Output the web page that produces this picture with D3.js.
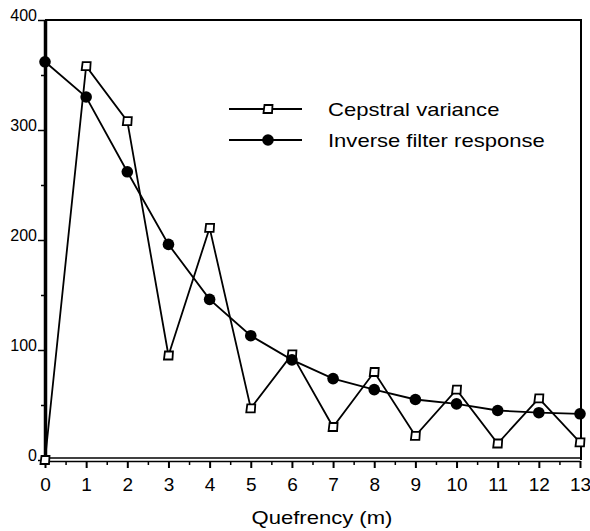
<!DOCTYPE html>
<html>
<head>
<meta charset="utf-8">
<script src="https://cdn.jsdelivr.net/npm/d3@7"></script>
<style>
  body { margin: 0; background: #fff; }
  svg { font-family: "Liberation Sans", Arial, sans-serif; }
</style>
</head>
<body>
<div id="chart"></div>
<script>
const quefrency = [0, 1, 2, 3, 4, 5, 6, 7, 8, 9, 10, 11, 12, 13];
const cepstralVariance = [0, 358, 308, 95, 211, 47, 96, 30, 80, 22, 64, 15, 56, 16];
const inverseFilter = [362, 330, 262, 196, 146, 113, 91, 74, 64, 55, 51, 45, 43, 42];
const yTicks = [0, 100, 200, 300, 400];
const yMinorTicks = [50, 150, 250, 350];
const xMinorTicks = d3.range(0.5, 13, 1);

const width = 590;
const height = 531;

const svg = d3.select("#chart")
  .append("svg")
    .attr("width", width)
    .attr("height", height);

const x = d3.scaleLinear().domain([0, 13]).range([45, 580]);
const y = d3.scaleLinear().domain([0, 400]).range([460, 20]);

// frame: top + right
svg.append("path")
  .attr("d", `M${x(0)},${y(400)}H581V${y(0)}`)
  .attr("fill", "none")
  .attr("stroke", "#000")
  .attr("stroke-width", 2);

// bottom axis (double line)
svg.append("line")
  .attr("x1", x(0)).attr("x2", 581)
  .attr("y1", y(0) - 2).attr("y2", y(0) - 2)
  .attr("stroke", "#000").attr("stroke-width", 1.5);

const xAxis = svg.append("g")
  .attr("transform", `translate(0,${y(0) + 1})`)
  .call(d3.axisBottom(x).tickValues(quefrency).tickSize(7).tickSizeOuter(0).tickPadding(10));
xAxis.select(".domain").attr("stroke-width", 1.5);
xAxis.selectAll(".tick line").attr("stroke-width", 2);
xAxis.selectAll("text").attr("font-size", 19).attr("fill", "#000");

svg.append("g")
  .attr("transform", `translate(0,${y(0) + 1})`)
  .call(d3.axisBottom(x).tickValues(xMinorTicks).tickSize(4).tickFormat(""))
  .call(g => g.select(".domain").remove())
  .selectAll("line").attr("stroke-width", 1.5);

// left axis
const yAxis = svg.append("g")
  .attr("transform", `translate(${x(0)},0)`)
  .call(d3.axisLeft(y).tickValues(yTicks).tickSize(7).tickSizeOuter(0));
yAxis.select(".domain").attr("stroke-width", 3.5);
yAxis.selectAll(".tick line").attr("stroke-width", 1.5);
yAxis.selectAll("text")
  .attr("font-size", 16)
  .attr("fill", "#000")
  .attr("x", -8)
  .attr("dy", "0");

svg.append("g")
  .attr("transform", `translate(${x(0)},0)`)
  .call(d3.axisLeft(y).tickValues(yMinorTicks).tickSize(4).tickFormat(""))
  .call(g => g.select(".domain").remove())
  .selectAll("line").attr("stroke-width", 1.5);

// axis title (the original font runs wider than Liberation Sans)
svg.append("text")
  .attr("transform", `translate(322,524) scale(1.16,1)`)
  .attr("text-anchor", "middle")
  .attr("font-size", 19)
  .text("Quefrency (m)");

// series
const squarePath = "M-3.5,-4H4.5L4,4H-4.5Z";

const line = d3.line()
  .x((d, i) => x(quefrency[i]))
  .y(d => y(d));

svg.append("path")
  .datum(cepstralVariance)
  .attr("d", line)
  .attr("fill", "none")
  .attr("stroke", "#000")
  .attr("stroke-width", 1.8);

svg.append("g")
  .selectAll("path")
  .data(cepstralVariance)
  .join("path")
    .attr("d", squarePath)
    .attr("transform", (d, i) => `translate(${x(quefrency[i])},${y(d)})`)
    .attr("fill", "#fff")
    .attr("stroke", "#000")
    .attr("stroke-width", 1.8);

svg.append("path")
  .datum(inverseFilter)
  .attr("d", line)
  .attr("fill", "none")
  .attr("stroke", "#000")
  .attr("stroke-width", 1.8);

svg.append("g")
  .selectAll("circle")
  .data(inverseFilter)
  .join("circle")
    .attr("cx", (d, i) => x(quefrency[i]))
    .attr("cy", d => y(d))
    .attr("r", 5.8)
    .attr("fill", "#000");

// legend
const legend = svg.append("g");
const legendItems = ["Cepstral variance", "Inverse filter response"];
legendItems.forEach((name, i) => {
  const ly = 109 + i * 31;
  legend.append("line")
    .attr("x1", 229).attr("x2", 302)
    .attr("y1", ly).attr("y2", ly)
    .attr("stroke", "#000").attr("stroke-width", 1.8);
  if (i === 0) {
    legend.append("path")
      .attr("d", squarePath)
      .attr("transform", `translate(268,${ly})`)
      .attr("fill", "#fff").attr("stroke", "#000").attr("stroke-width", 1.8);
  } else {
    legend.append("circle")
      .attr("cx", 268).attr("cy", ly).attr("r", 5.8).attr("fill", "#000");
  }
  legend.append("text")
    .attr("transform", `translate(328,${ly + 7}) scale(1.16,1)`)
    .attr("font-size", 19)
    .text(name);
});
</script>
</body>
</html>
